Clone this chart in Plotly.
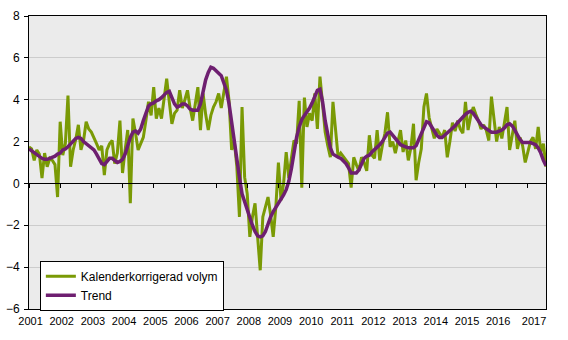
import plotly.graph_objects as go

start_year = 2001
year_labels = [str(y) for y in range(2001, 2018)]

# Monthly values, Jan 2001 - Aug 2017
volym = (
    [1.75, 1.65, 1.1, 1.6, 1.4, 0.25, 1.45, 0.8, 1.2, 1.1, 0.9, -0.65] +      # 2001
    [2.95, 1.35, 1.9, 4.2, 0.8, 1.6, 2.1, 2.8, 1.6, 2.05, 2.95, 2.6] +        # 2002
    [2.45, 2.2, 1.9, 1.6, 1.8, 0.4, 1.6, 1.9, 2.05, 0.95, 1.45, 3.0] +        # 2003
    [0.5, 1.6, 2.55, -0.95, 3.1, 2.4, 1.6, 1.9, 2.2, 3.0, 3.9, 3.25] +        # 2004
    [4.6, 3.1, 3.6, 3.1, 4.2, 5.0, 3.9, 2.85, 3.35, 3.5, 4.45, 3.6] +         # 2005
    [4.0, 4.45, 3.6, 3.0, 3.8, 4.6, 2.55, 4.3, 3.3, 2.55, 3.25, 3.65] +       # 2006
    [3.9, 4.3, 3.6, 4.4, 5.1, 3.95, 1.6, 2.05, 0.8, -1.6, 3.65, 0.3] +        # 2007
    [-0.5, -2.55, -1.6, -0.95, -2.6, -4.15, -1.6, -1.1, -0.65, -1.5, -2.55, -1.15] +  # 2008
    [1.0, -0.8, 0.0, 1.5, 0.25, 1.2, 2.05, 1.9, 3.95, -0.2, 4.1, 2.7] +       # 2009
    [3.35, 3.0, 4.3, 2.6, 5.1, 3.8, 2.45, 1.8, 1.25, 3.9, 2.5, 1.25] +        # 2010
    [1.45, 1.3, 1.1, 0.95, -0.2, 1.25, 0.9, 0.6, 1.25, 1.0, 0.6, 2.3] +       # 2011
    [1.35, 1.2, 2.55, 1.1, 1.8, 2.4, 3.4, 1.75, 2.0, 1.45, 2.0, 2.55] +       # 2012
    [1.5, 2.05, 1.1, 1.7, 2.85, 0.15, 1.0, 1.65, 3.65, 4.3, 3.15, 2.6] +      # 2013
    [2.15, 2.6, 2.4, 2.2, 2.55, 1.25, 2.0, 2.9, 2.5, 3.0, 2.6, 2.4] +         # 2014
    [3.9, 2.55, 3.2, 3.65, 3.3, 3.0, 2.6, 2.8, 2.55, 2.05, 4.15, 3.0] +       # 2015
    [2.0, 2.7, 2.15, 2.9, 3.65, 1.6, 2.4, 3.0, 1.65, 2.2, 1.8, 1.0] +         # 2016
    [1.5, 2.0, 2.2, 1.65, 2.7, 1.5, 1.9, 0.8]                                 # 2017
)

trend = (
    [1.65, 1.55, 1.45, 1.35, 1.25, 1.2, 1.15, 1.15, 1.2, 1.25, 1.3, 1.4] +
    [1.45, 1.6, 1.65, 1.75, 1.9, 2.05, 2.15, 2.2, 2.15, 2.0, 1.9, 1.8] +
    [1.75, 1.6, 1.4, 1.15, 0.95, 0.9, 1.05, 1.2, 1.2, 1.1, 1.0, 1.05] +
    [1.15, 1.4, 1.8, 2.2, 2.45, 2.5, 2.4, 2.6, 3.0, 3.4, 3.7, 3.8] +
    [3.85, 3.95, 4.0, 4.1, 4.25, 4.35, 4.4, 4.1, 3.8, 3.65, 3.7, 3.8] +
    [3.8, 3.7, 3.55, 3.5, 3.5, 3.5, 3.8, 4.4, 4.95, 5.3, 5.55, 5.5] +
    [5.4, 5.3, 5.15, 4.8, 4.45, 3.8, 2.9, 1.9, 0.9, 0.3, -0.5, -0.9] +
    [-1.2, -1.6, -2.0, -2.3, -2.5, -2.55, -2.5, -2.3, -1.9, -1.6, -1.35, -1.15] +
    [-1.0, -0.8, -0.55, -0.3, 0.1, 0.7, 1.5, 2.2, 2.7, 3.05, 3.25, 3.4] +
    [3.6, 3.85, 4.2, 4.45, 4.5, 3.9, 3.0, 2.3, 1.7, 1.4, 1.3, 1.25] +
    [1.2, 1.1, 0.95, 0.75, 0.5, 0.5, 0.5, 0.65, 0.95, 1.2, 1.3, 1.35] +
    [1.5, 1.6, 1.7, 1.85, 2.0, 2.2, 2.4, 2.45, 2.3, 2.1, 1.95, 1.85] +
    [1.8, 1.75, 1.7, 1.7, 1.7, 1.8, 2.1, 2.45, 2.75, 2.95, 2.9, 2.7] +
    [2.5, 2.3, 2.2, 2.2, 2.3, 2.4, 2.5, 2.6, 2.75, 2.9, 3.05, 3.15] +
    [3.3, 3.4, 3.45, 3.35, 3.15, 2.95, 2.8, 2.7, 2.6, 2.5, 2.45, 2.45] +
    [2.45, 2.5, 2.55, 2.65, 2.8, 2.85, 2.75, 2.55, 2.3, 2.1, 1.95, 1.95] +
    [1.95, 1.95, 1.9, 1.85, 1.7, 1.45, 1.1, 0.85]
)

x = [start_year + i / 12 for i in range(len(volym))]
x_end = x[-1]
tickvals = list(range(2001, 2018))
# label positions (last label sits slightly to the right, as in the original)
label_pos = [v + 0.05 for v in tickvals[:-1]] + [2017.2]

FONT = "Liberation Sans, Arial, sans-serif"

fig = go.Figure()
fig.add_trace(go.Scatter(x=x, y=volym, mode="lines", name="Kalenderkorrigerad volym",
                         line=dict(color="#7a9a05", width=3)))
fig.add_trace(go.Scatter(x=x, y=trend, mode="lines", name="Trend",
                         line=dict(color="#6e1f70", width=3.5)))
# helper trace for the zero-line axis with ticks
fig.add_trace(go.Scatter(x=x, y=trend, mode="lines", xaxis="x2", showlegend=False,
                         hoverinfo="skip", opacity=0, line=dict(width=0)))

fig.update_layout(
    width=568, height=340,
    margin=dict(l=29, r=22, t=16, b=31),
    paper_bgcolor="white",
    plot_bgcolor="#ebebeb",
    font=dict(family=FONT, size=12, color="black"),
    showlegend=True,
    legend=dict(x=0.021, y=0.165, xanchor="left", yanchor="top",
                bgcolor="white", bordercolor="black", borderwidth=1,
                font=dict(size=12, family=FONT), itemwidth=30,
                tracegroupgap=0),
    xaxis=dict(range=[2001, x_end], tickvals=label_pos, ticktext=year_labels,
               showgrid=False, zeroline=False, showline=True, linecolor="black",
               linewidth=1, mirror=True, ticks="", tickfont=dict(size=11),
               ticklabelstandoff=2, automargin=False),
    xaxis2=dict(range=[2001, x_end], overlaying="x", anchor="free",
                position=6 / 14, side="bottom", tickvals=tickvals,
                showticklabels=False, showgrid=False, zeroline=False,
                showline=True, linecolor="black", linewidth=1,
                ticks="outside", ticklen=4, tickcolor="black", automargin=False),
    yaxis=dict(range=[-6, 8], dtick=2, tick0=0, showgrid=True, gridcolor="#cccccc",
               gridwidth=1, zeroline=False, showline=True, linecolor="black",
               linewidth=1, mirror=True, ticks="outside", ticklen=4,
               tickcolor="black", tickfont=dict(size=12), ticklabelstandoff=2,
               automargin=False),
)

fig.write_html("out.html")
